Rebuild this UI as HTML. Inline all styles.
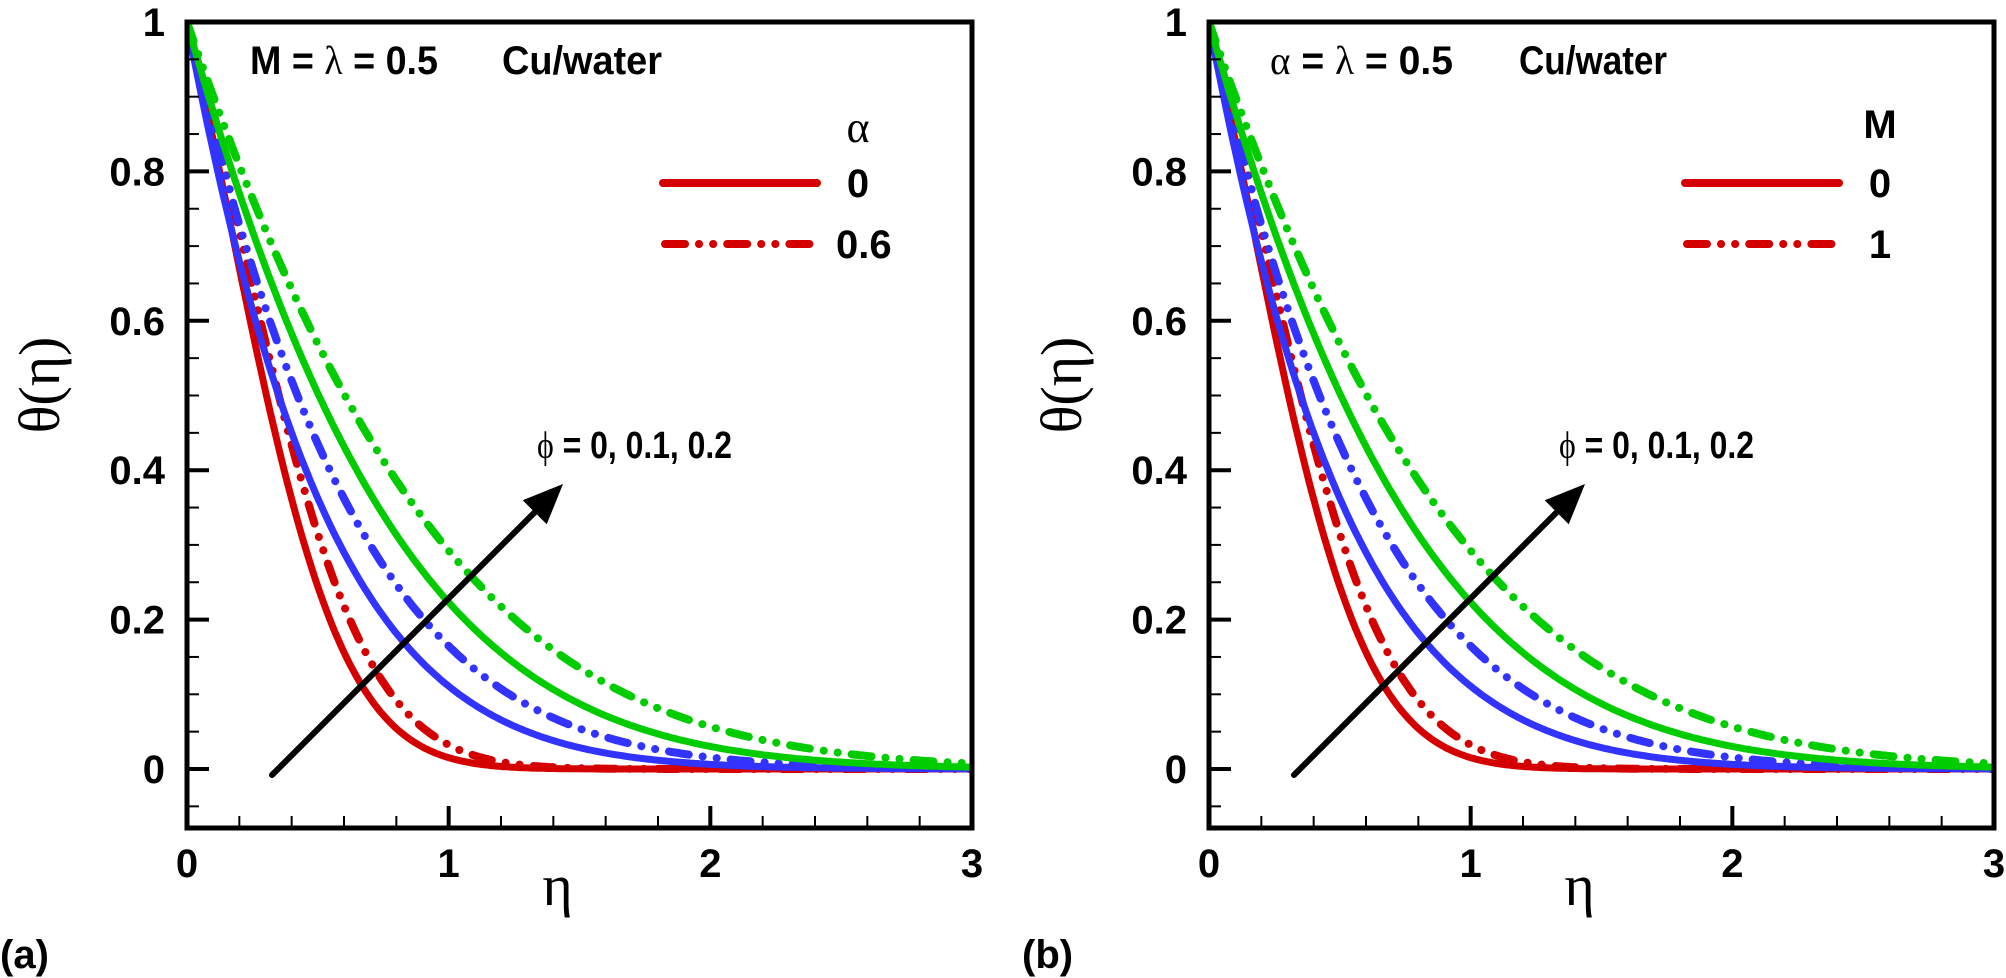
<!DOCTYPE html>
<html><head><meta charset="utf-8">
<style>
html,body{margin:0;padding:0;background:#fff;}
svg{display:block;}
text{font-family:"Liberation Sans",sans-serif;}
.tl{font-size:40px;font-weight:bold;fill:#000;}
.ser{font-family:"Liberation Serif",serif;}
</style></head>
<body>
<svg id="s" width="2006" height="978" viewBox="0 0 2006 978" xmlns="http://www.w3.org/2000/svg"></svg>
<script>
const S=document.getElementById('s');
let h='';
const Y0=769, YS=747, YB=828, YT=22;
function panel(x0,x3,p){
  const xs=(x3-x0)/3;
  const X=v=>x0+v*xs, Y=v=>Y0-v*YS;
  const cur=[[1.45,2.74,'#d40000'],[1.86,0.34,'#3333ff'],[1.25,0.25,'#00cc00']];
  h+=`<clipPath id="c${p}"><rect x="${x0}" y="${YT}" width="${x3-x0}" height="${YB-YT}"/></clipPath><g clip-path="url(#c${p})">`;
  for(const [a,b,c] of cur){
    for(const dash of [false,true]){
      let d='';
      for(let i=0;i<=300;i++){const e=i/100;let t=Math.exp(-a*e-b*e*e);if(dash)t=Math.pow(t,0.82);
        d+=(i?'L':'M')+X(e).toFixed(1)+','+Y(t).toFixed(1);}
      h+=`<path d="${d}" fill="none" stroke="${c}" stroke-width="${dash?8:7}" stroke-linecap="round" stroke-linejoin="round" ${dash?'stroke-dasharray="20 14 0.1 14 0.1 14"':''}/>`;
    }
  }
  h+='</g>';
  for(let i=-1;i<=20;i++){const v=i*0.05;const y=Y(v);const maj=i%4==0;
    h+=`<line x1="${x0}" y1="${y}" x2="${x0+(maj?22:12)}" y2="${y}" stroke="#000" stroke-width="${maj?4:2}"/>`;
    if(maj)h+=`<text class="tl" x="${x0-22}" y="${y+14}" text-anchor="end">${(Math.round(v*10)/10).toString()}</text>`;}
  for(let i=1;i<15;i++){const x=X(i*0.2);const maj=i%5==0;
    h+=`<line x1="${x}" y1="${YB}" x2="${x}" y2="${YB-(maj?22:12)}" stroke="#000" stroke-width="${maj?4:2}"/>`;}
  for(let i=0;i<=3;i++)h+=`<text class="tl" x="${X(i)}" y="${877}" text-anchor="middle">${i}</text>`;
  h+=`<rect x="${x0}" y="${YT}" width="${x3-x0}" height="${YB-YT}" fill="none" stroke="#000" stroke-width="5"/>`;
  const ax1=x0+85, ay1=775, ax2=x0+376, ay2=484;
  const ang=Math.atan2(ay2-ay1,ax2-ax1);
  const bx=ax2-40*Math.cos(ang), by=ay2-40*Math.sin(ang);
  h+=`<line x1="${ax1}" y1="${ay1}" x2="${bx}" y2="${by}" stroke="#000" stroke-width="6" stroke-linecap="round"/>`;
  const px=-Math.sin(ang)*17, py=Math.cos(ang)*17;
  h+=`<polygon points="${ax2},${ay2} ${bx+px},${by+py} ${bx-px},${by-py}" fill="#000"/>`;
  h+=`<text x="${x0+350}" y="${458}" font-size="38" font-weight="bold" textLength="195" lengthAdjust="spacingAndGlyphs"><tspan class="ser" font-weight="normal">ϕ</tspan> = 0, 0.1, 0.2</text>`;
  h+=`<text class="ser" font-size="58" transform="translate(${x0-128},385) rotate(-90)" text-anchor="middle">θ(η)</text>`;
  h+=`<text class="ser" font-size="58" x="${(x0+x3)/2-22}" y="905" text-anchor="middle">η</text>`;
  const lx=x0+476;
  h+=`<line x1="${lx}" y1="183" x2="${lx+154}" y2="183" stroke="#d40000" stroke-width="8" stroke-linecap="round"/>`;
  h+=`<line x1="${lx+2}" y1="244" x2="${lx+154}" y2="244" stroke="#d40000" stroke-width="8" stroke-linecap="round" stroke-dasharray="20 14 0.1 14 0.1 14"/>`;
}
panel(187,972,'a');
panel(1209,1994,'b');
h+=`<text x="250" y="74" font-size="40" font-weight="bold" textLength="188" lengthAdjust="spacingAndGlyphs">M = <tspan class="ser" font-weight="normal">λ</tspan> = 0.5</text>`;
h+=`<text x="502" y="74" font-size="40" font-weight="bold" textLength="160" lengthAdjust="spacingAndGlyphs">Cu/water</text>`;
h+=`<text class="ser" x="858" y="142" font-size="44" text-anchor="middle">α</text>`;
h+=`<text class="tl" x="858" y="197" text-anchor="middle">0</text>`;
h+=`<text class="tl" x="836" y="258">0.6</text>`;
h+=`<text x="1270" y="74" font-size="40" font-weight="bold" textLength="183" lengthAdjust="spacingAndGlyphs"><tspan class="ser" font-weight="normal">α</tspan> = <tspan class="ser" font-weight="normal">λ</tspan> = 0.5</text>`;
h+=`<text x="1519" y="74" font-size="40" font-weight="bold" textLength="148" lengthAdjust="spacingAndGlyphs">Cu/water</text>`;
h+=`<text class="tl" x="1880" y="138" text-anchor="middle">M</text>`;
h+=`<text class="tl" x="1880" y="197" text-anchor="middle">0</text>`;
h+=`<text class="tl" x="1880" y="258" text-anchor="middle">1</text>`;
h+=`<text class="tl" x="0" y="968" font-size="46">(a)</text>`;
h+=`<text class="tl" x="1022" y="968" font-size="46">(b)</text>`;
S.innerHTML=h;
</script>
</body></html>
